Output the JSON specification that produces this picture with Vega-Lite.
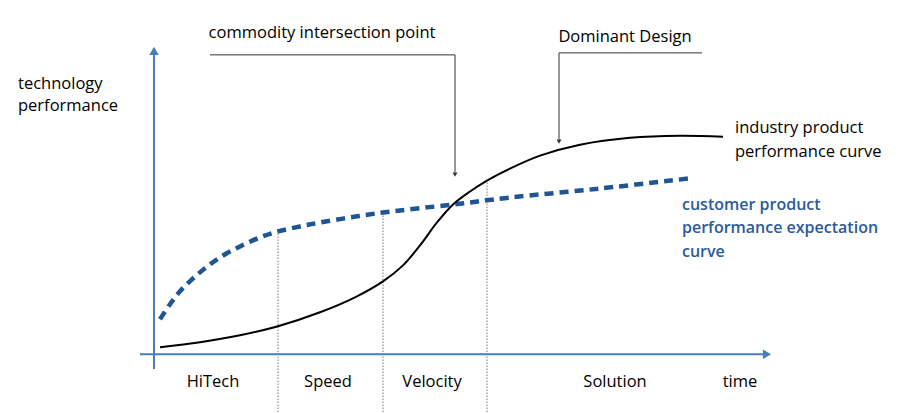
{
  "$schema": "https://vega.github.io/schema/vega-lite/v6.json",
  "width": 900,
  "height": 413,
  "padding": 0,
  "autosize": {"type": "fit", "contains": "padding"},
  "config": {"view": {"stroke": null}, "text": {"font": "Open Sans", "fontSize": 16.5}},
  "datasets": {
    "industry": [
      {"x": 160, "y": 65}, {"x": 200, "y": 70}, {"x": 240, "y": 77}, {"x": 278, "y": 86},
      {"x": 320, "y": 100}, {"x": 355, "y": 115}, {"x": 383, "y": 131}, {"x": 403, "y": 147},
      {"x": 420, "y": 167}, {"x": 437, "y": 190}, {"x": 453, "y": 208}, {"x": 470, "y": 221},
      {"x": 487, "y": 232}, {"x": 510, "y": 244}, {"x": 540, "y": 257}, {"x": 580, "y": 268},
      {"x": 630, "y": 275}, {"x": 680, "y": 277}, {"x": 723, "y": 276}
    ],
    "customer": [
      {"x": 160, "y": 93}, {"x": 170, "y": 108}, {"x": 180, "y": 121}, {"x": 192, "y": 133},
      {"x": 205, "y": 144}, {"x": 220, "y": 155}, {"x": 240, "y": 166}, {"x": 260, "y": 175},
      {"x": 278, "y": 181}, {"x": 300, "y": 186}, {"x": 320, "y": 190}, {"x": 350, "y": 195},
      {"x": 383, "y": 200}, {"x": 453, "y": 208}, {"x": 510, "y": 215}, {"x": 600, "y": 224},
      {"x": 688, "y": 234}
    ],
    "phases": [
      {"x": 278, "y": 0, "y2": 181},
      {"x": 383, "y": 0, "y2": 200},
      {"x": 487, "y": 0, "y2": 232}
    ],
    "axisV": [{"x": 154, "y": 43, "y2": 360}],
    "axisH": [{"x": 140, "x2": 764, "y": 58}],
    "annoH": [
      {"x": 210, "x2": 455, "y": 358},
      {"x": 559, "x2": 702, "y": 360}
    ],
    "annoV": [
      {"x": 455, "y": 358, "y2": 240},
      {"x": 559, "y": 360, "y2": 273}
    ],
    "annoArrow": [{"x": 455, "y": 238}, {"x": 559, "y": 271}],
    "arrowUp": [{"x": 154, "y": 362}],
    "arrowRight": [{"x": 767, "y": 58}],
    "centerLabels": [
      {"label": "HiTech", "x": 213, "y": 30},
      {"label": "Speed", "x": 328, "y": 30},
      {"label": "Velocity", "x": 432, "y": 30},
      {"label": "Solution", "x": 615, "y": 30},
      {"label": "time", "x": 740, "y": 30},
      {"label": "commodity intersection point", "x": 322, "y": 380},
      {"label": "Dominant Design", "x": 625, "y": 376}
    ],
    "leftLabels": [
      {"label": "technology", "x": 18, "y": 329},
      {"label": "performance", "x": 18, "y": 307},
      {"label": "industry product", "x": 735, "y": 285},
      {"label": "performance curve", "x": 735, "y": 261}
    ],
    "blueLabels": [
      {"label": "customer product", "x": 682, "y": 208},
      {"label": "performance expectation", "x": 682, "y": 184},
      {"label": "curve", "x": 682, "y": 160}
    ]
  },
  "encoding": {
    "x": {"field": "x", "type": "quantitative", "scale": {"domain": [0, 900], "nice": false, "zero": false}, "axis": null},
    "y": {"field": "y", "type": "quantitative", "scale": {"domain": [0, 413], "nice": false, "zero": false}, "axis": null}
  },
  "layer": [
    {"data": {"name": "phases"}, "mark": {"type": "rule", "color": "#555555", "strokeWidth": 0.8, "strokeDash": [1.5, 1.5]},
     "encoding": {"y2": {"field": "y2"}}},
    {"data": {"name": "axisV"}, "mark": {"type": "rule", "color": "#4a7ebb", "strokeWidth": 2},
     "encoding": {"y2": {"field": "y2"}}},
    {"data": {"name": "axisH"}, "mark": {"type": "rule", "color": "#4a7ebb", "strokeWidth": 2},
     "encoding": {"x2": {"field": "x2"}}},
    {"data": {"name": "arrowUp"}, "mark": {"type": "point", "shape": "triangle-up", "filled": true, "color": "#4a7ebb", "size": 90, "opacity": 1}},
    {"data": {"name": "arrowRight"}, "mark": {"type": "point", "shape": "triangle-right", "filled": true, "color": "#4a7ebb", "size": 90, "opacity": 1}},
    {"data": {"name": "annoH"}, "mark": {"type": "rule", "color": "#333333", "strokeWidth": 1},
     "encoding": {"x2": {"field": "x2"}}},
    {"data": {"name": "annoV"}, "mark": {"type": "rule", "color": "#333333", "strokeWidth": 1},
     "encoding": {"y2": {"field": "y2"}}},
    {"data": {"name": "annoArrow"}, "mark": {"type": "point", "shape": "triangle-down", "filled": true, "color": "#333333", "size": 25, "opacity": 1}},
    {"data": {"name": "customer"}, "mark": {"type": "line", "color": "#1f5594", "strokeWidth": 4.5, "strokeDash": [9, 6], "interpolate": "catmull-rom"}},
    {"data": {"name": "industry"}, "mark": {"type": "line", "color": "#000000", "strokeWidth": 2, "interpolate": "catmull-rom"}},
    {"data": {"name": "centerLabels"}, "mark": {"type": "text", "align": "center", "baseline": "middle", "color": "#000000", "fontWeight": 500},
     "encoding": {"text": {"field": "label"}}},
    {"data": {"name": "leftLabels"}, "mark": {"type": "text", "align": "left", "baseline": "middle", "color": "#000000", "fontWeight": 500},
     "encoding": {"text": {"field": "label"}}},
    {"data": {"name": "blueLabels"}, "mark": {"type": "text", "align": "left", "baseline": "middle", "color": "#2a5b9a", "fontWeight": 600, "fontSize": 16},
     "encoding": {"text": {"field": "label"}}}
  ]
}
